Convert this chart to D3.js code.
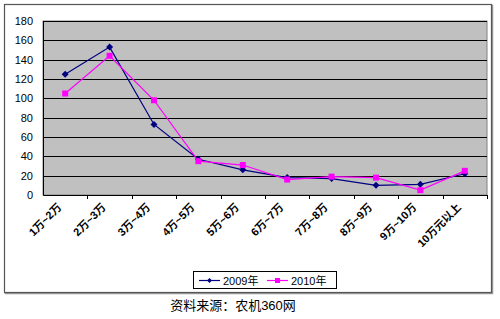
<!DOCTYPE html>
<html>
<head>
<meta charset="utf-8">
<script src="https://cdn.jsdelivr.net/npm/d3@7"></script>
<style>
  body { margin: 0; background: #fff; }
  text { font-family: Arial, "Liberation Sans", "Noto Sans CJK SC", sans-serif; }
</style>
</head>
<body>
<script>
const categories = ["1万~2万", "2万~3万", "3万~4万", "4万~5万", "5万~6万", "6万~7万", "7万~8万", "8万~9万", "9万~10万", "10万元以上"];
const values2009 = [125, 153, 73, 37, 26, 18, 17, 10, 11, 22];
const values2010 = [105, 144, 98, 35, 31, 16, 19, 18, 5, 25];
const yTicks = [0, 20, 40, 60, 80, 100, 120, 140, 160, 180];
const seriesNames = ["2009年", "2010年"];
const sourceText = "资料来源：农机360网";

let w = 500;
let h = 319;
let plot = { left: 43, top: 21, right: 487, bottom: 195 };

let svg = d3.select("body").append("svg").attr("width", w).attr("height", h);

// outer chart frame (with a faint shadow)
svg.append("rect")
  .attr("x", 5.5).attr("y", 5.5)
  .attr("width", 487).attr("height", 288)
  .attr("fill", "none")
  .attr("stroke", "#9a9a9a")
  .attr("stroke-width", 1.5);
svg.append("rect")
  .attr("x", 4.5).attr("y", 4.5)
  .attr("width", 487).attr("height", 288)
  .attr("fill", "#fff")
  .attr("stroke", "#555")
  .attr("stroke-width", 1.2);

let xScale = d3.scaleBand()
  .domain(categories)
  .range([plot.left, plot.right]);

let yScale = d3.scaleLinear()
  .domain([0, 180])
  .range([plot.bottom, plot.top]);

// plot background
svg.append("rect")
  .attr("x", plot.left).attr("y", plot.top)
  .attr("width", plot.right - plot.left)
  .attr("height", plot.bottom - plot.top)
  .attr("fill", "#c0c0c0")
  .attr("stroke", "#808080")
  .attr("stroke-width", 1);

// gridlines
svg.append("g")
  .selectAll("line")
  .data(yTicks.filter(d => d > 0))
  .enter()
  .append("line")
  .attr("x1", plot.left).attr("x2", plot.right)
  .attr("y1", d => Math.round(yScale(d)) + 0.5)
  .attr("y2", d => Math.round(yScale(d)) + 0.5)
  .attr("stroke", "#000")
  .attr("stroke-width", 1);

// y axis
const yAxis = d3.axisLeft(yScale).tickValues(yTicks).tickSize(0).tickPadding(10);
svg.append("g")
  .attr("transform", "translate(" + plot.left + ",0)")
  .call(yAxis)
  .call(g => g.select(".domain").attr("stroke", "#000"))
  .selectAll("text")
  .attr("font-size", "11px")
  .attr("fill", "#000");

// x axis
const xAxis = d3.axisBottom(xScale).tickSize(0).tickFormat("");
svg.append("g")
  .attr("transform", "translate(0," + plot.bottom + ")")
  .call(xAxis)
  .call(g => g.select(".domain").attr("stroke", "#000"));

// tick marks at band boundaries
svg.append("g")
  .selectAll("line")
  .data(categories)
  .enter()
  .append("line")
  .attr("x1", d => Math.round(xScale(d) + xScale.bandwidth()) + 0.5)
  .attr("x2", d => Math.round(xScale(d) + xScale.bandwidth()) + 0.5)
  .attr("y1", plot.bottom)
  .attr("y2", plot.bottom + 4)
  .attr("stroke", "#000");

// rotated category labels
svg.append("g")
  .selectAll("text")
  .data(categories)
  .enter()
  .append("text")
  .attr("transform", d => "translate(" + (xScale(d) + xScale.bandwidth() / 2 - 3) + "," + (plot.bottom + 13) + ") rotate(-45)")
  .attr("text-anchor", "end")
  .attr("font-size", "11px")
  .attr("font-weight", "bold")
  .attr("fill", "#000")
  .text(d => d);

let cx = (d, i) => xScale(categories[i]) + xScale.bandwidth() / 2;
let line = d3.line().x((d, i) => cx(d, i)).y(d => yScale(d));

const navy = "#000080";
const magenta = "#ff00ff";

svg.append("path")
  .datum(values2009)
  .attr("d", line)
  .attr("fill", "none")
  .attr("stroke", navy)
  .attr("stroke-width", 1.2);

svg.append("path")
  .datum(values2010)
  .attr("d", line)
  .attr("fill", "none")
  .attr("stroke", magenta)
  .attr("stroke-width", 1.2);

// small square diamond
const diamond = "M0,-3.5L3.5,0L0,3.5L-3.5,0Z";

svg.append("g")
  .selectAll("path")
  .data(values2009)
  .enter()
  .append("path")
  .attr("d", diamond)
  .attr("transform", (d, i) => "translate(" + cx(d, i) + "," + yScale(d) + ")")
  .attr("fill", navy);

svg.append("g")
  .selectAll("rect")
  .data(values2010)
  .enter()
  .append("rect")
  .attr("x", (d, i) => cx(d, i) - 3)
  .attr("y", d => yScale(d) - 3)
  .attr("width", 6)
  .attr("height", 6)
  .attr("fill", magenta);

// legend
let legend = svg.append("g").attr("transform", "translate(193,271)");
legend.append("rect")
  .attr("x", 0.5).attr("y", 0.5)
  .attr("width", 143).attr("height", 17)
  .attr("fill", "#fff")
  .attr("stroke", "#000");

let legItems = [
  { name: seriesNames[0], color: navy, x: 6, marker: "diamond" },
  { name: seriesNames[1], color: magenta, x: 74, marker: "square" }
];
legItems.forEach(it => {
  legend.append("line")
    .attr("x1", it.x).attr("x2", it.x + 21)
    .attr("y1", 9.5).attr("y2", 9.5)
    .attr("stroke", it.color)
    .attr("stroke-width", 1.2);
  if (it.marker === "diamond") {
    legend.append("path")
      .attr("d", "M0,-2.5L2.5,0L0,2.5L-2.5,0Z")
      .attr("transform", "translate(" + (it.x + 10.5) + ",9.5)")
      .attr("fill", it.color);
  } else {
    legend.append("rect")
      .attr("x", it.x + 8).attr("y", 7)
      .attr("width", 5).attr("height", 5)
      .attr("fill", it.color);
  }
  legend.append("text")
    .attr("x", it.x + 24)
    .attr("y", 13.5)
    .attr("font-size", "11px")
    .attr("fill", "#000")
    .text(it.name);
});

// source note
svg.append("text")
  .attr("x", 233)
  .attr("y", 310)
  .attr("text-anchor", "middle")
  .attr("font-size", "13px")
  .attr("fill", "#000")
  .text(sourceText);
</script>
</body>
</html>
